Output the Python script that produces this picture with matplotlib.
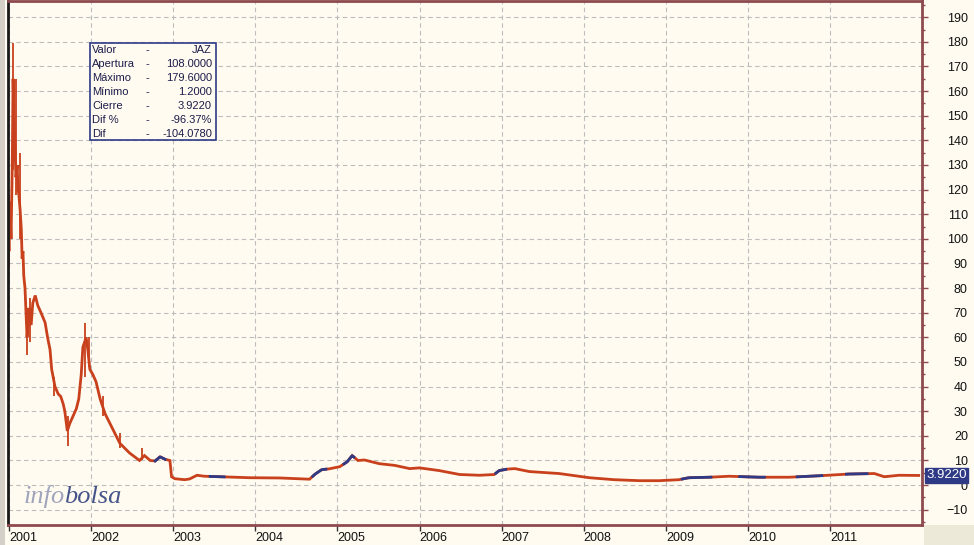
import numpy as np
import matplotlib.pyplot as plt
from matplotlib.patches import Rectangle

# Price path (decimal year, price)
years = [2000.99, 2001.0, 2001.01, 2001.025, 2001.04, 2001.05, 2001.06, 2001.07, 2001.085,
         2001.1, 2001.11, 2001.12, 2001.135, 2001.15, 2001.16, 2001.17, 2001.18, 2001.195,
         2001.21, 2001.22, 2001.245, 2001.27, 2001.29, 2001.32, 2001.35, 2001.39, 2001.44,
         2001.47, 2001.5, 2001.52, 2001.56, 2001.6, 2001.63, 2001.66, 2001.68, 2001.71,
         2001.74, 2001.78, 2001.82, 2001.85, 2001.88, 2001.9, 2001.94, 2001.96, 2001.985,
         2002.02, 2002.06, 2002.11, 2002.17, 2002.23, 2002.29, 2002.35, 2002.41, 2002.47,
         2002.53, 2002.59, 2002.65, 2002.72, 2002.78, 2002.84, 2002.9, 2002.96, 2002.98,
         2003.02, 2003.14, 2003.2, 2003.29, 2003.38, 2003.57, 2003.93, 2004.3, 2004.66,
         2004.73, 2004.81, 2004.9, 2005.03, 2005.12, 2005.18, 2005.25, 2005.33, 2005.51,
         2005.7, 2005.88, 2006.0, 2006.24, 2006.49, 2006.73, 2006.91, 2006.97, 2007.07,
         2007.16, 2007.34, 2007.7, 2008.07, 2008.37, 2008.68, 2008.92, 2009.16, 2009.28,
         2009.53, 2009.77, 2010.14, 2010.5, 2010.87, 2011.23, 2011.54, 2011.66, 2011.84,
         2012.08]
prices = [108, 95, 115, 100, 130, 165, 150, 140, 125,
          130, 120, 118, 112, 104, 92, 95, 85, 80,
          68, 60, 72, 65, 74, 77, 73, 70, 66,
          60, 55, 47, 40, 37, 36, 33, 30, 22,
          25, 28, 31, 35, 45, 56, 60, 55, 47,
          45, 42, 35, 29, 25, 21, 17, 15, 13,
          11.5, 10, 12, 10, 9.8, 11.5, 10.5, 10, 3.4,
          2.6, 2.2, 2.5, 4.0, 3.6, 3.4, 3.0, 2.9, 2.4,
          4.5, 6.3, 6.6, 7.5, 9.5, 12.0, 10.0, 10.2, 8.7,
          8.0, 6.7, 7.0, 5.9, 4.3, 4.0, 4.3, 5.9, 6.5,
          6.7, 5.5, 4.7, 3.0, 2.2, 1.8, 1.8, 2.2, 3.0,
          3.2, 3.6, 3.2, 3.2, 3.8, 4.5, 4.7, 3.4, 4.0,
          3.922]

# High-low spikes (decimal year, low, high)
spike_years = [2001.0, 2001.05, 2001.08, 2001.13, 2001.22, 2001.26, 2001.55, 2001.72,
               2001.92, 2001.98, 2002.15, 2002.35, 2002.62]
spike_lows = [88, 128, 118, 100, 53, 58, 36, 16, 44, 48, 28, 15, 10]
spike_highs = [118, 179.6, 165, 135, 72, 76, 44, 28, 66, 60, 36, 21, 15]

# stretches drawn in blue (rising sessions)
blue_spans = [(2002.78, 2002.9), (2003.45, 2003.62), (2004.7, 2004.86), (2005.08, 2005.2),
              (2006.93, 2007.05), (2009.2, 2009.55), (2009.9, 2010.2), (2010.6, 2010.9),
              (2011.2, 2011.45)]

info_labels = ['Valor', 'Apertura', 'Máximo', 'Mínimo', 'Cierre', 'Dif %', 'Dif']
info_values = ['JAZ', '108.0000', '179.6000', '1.2000', '3.9220', '-96.37%', '-104.0780']

year_ticks = list(range(2001, 2012))
last_close = 3.922

red = '#C8401C'
blue = '#2E3A86'
cream = '#FFFBF0'
frame = '#8E4A4E'

plt.rcParams['font.family'] = ['Liberation Sans', 'DejaVu Sans']

fig = plt.figure(figsize=(9.74, 5.45), dpi=100, facecolor=cream)
ax = fig.add_axes([8 / 974, 20 / 545, 914 / 974, 524 / 545])
ax.set_facecolor(cream)

ax.set_xlim(2000.988, 2012.12)
ax.set_ylim(-16.2, 196.6)

# grid
ax.set_yticks(np.arange(-10, 191, 10))
ax.set_yticks(np.arange(-15, 196, 5), minor=True)
ax.set_xticks(year_ticks)
ax.grid(True, which='major', color='#BDBDBD', linestyle=(0, (4, 3)), linewidth=0.8)
ax.set_axisbelow(True)

# price
yrs = np.array(years)
px = np.array(prices)
ax.plot(yrs, px, color=red, linewidth=2.0, solid_joinstyle='miter')
ax.vlines(spike_years, spike_lows, spike_highs, color=red, linewidth=1.3)
for a, b in blue_spans:
    xs = np.linspace(a, b, 12)
    ax.plot(xs, np.interp(xs, yrs, px), color=blue, linewidth=2.0)

# axes styling
for s in ax.spines.values():
    s.set_color(frame)
    s.set_linewidth(2)
ax.spines['left'].set_color('#1a1a1a')
ax.yaxis.tick_right()
ax.tick_params(axis='y', which='major', direction='out', length=4.5, width=1, color=frame,
               labelsize=9, pad=28.5, labelcolor='#111111')
ax.tick_params(axis='y', which='minor', direction='out', length=2.2, width=1, color=frame)
ax.tick_params(axis='x', direction='out', length=4, width=1, color='#333333',
               labelsize=9, pad=1, labelcolor='#111111')
ax.set_xticklabels([str(y) for y in year_ticks])
for lbl in ax.get_xticklabels():
    lbl.set_horizontalalignment('left')
for lbl in ax.get_yticklabels():
    lbl.set_horizontalalignment('right')

# info box
box = Rectangle((90 / 974, 1 - 140 / 545), 126 / 974, 97 / 545, transform=fig.transFigure,
                facecolor=cream, edgecolor=blue, linewidth=1.2, zorder=5)
fig.patches.append(box)
for i, (lab, val) in enumerate(zip(info_labels, info_values)):
    yy = 1 - (50 + 14 * i) / 545
    fig.text(92 / 974, yy, lab, fontsize=8, color='#1c1c4a', va='center', ha='left', zorder=6)
    fig.text(146 / 974, yy, '-', fontsize=8, color='#1c1c4a', va='center', ha='left', zorder=6)
    fig.text(212 / 974, yy, val, fontsize=8, color='#1c1c4a', va='center', ha='right', zorder=6)

# last price tag
ax.annotate(f'{last_close:.4f}', xy=(1.0, last_close), xycoords=('axes fraction', 'data'),
            xytext=(3, 0), textcoords='offset points', fontsize=9.5, color='white',
            va='center', ha='left', annotation_clip=False,
            bbox=dict(boxstyle='square,pad=0.12', facecolor=blue, edgecolor=blue))

# watermark
fig.text(24 / 974, 1 - 497 / 545, 'info', fontsize=19, style='italic', family='Liberation Serif',
         color='#A0A4BC', va='center', ha='left')
fig.text(64 / 974, 1 - 497 / 545, 'bolsa', fontsize=19, style='italic', family='Liberation Serif',
         color='#45548A', va='center', ha='left')

# grey corner and left edge
fig.patches.append(Rectangle((924 / 974, 0), 50 / 974, 20 / 545, transform=fig.transFigure,
                             facecolor='#ECE9D8', edgecolor='none'))
fig.patches.append(Rectangle((0, 0), 5 / 974, 1, transform=fig.transFigure,
                             facecolor='#D4D0C8', edgecolor='none'))

fig.savefig('out.png', dpi=100, facecolor=cream)
